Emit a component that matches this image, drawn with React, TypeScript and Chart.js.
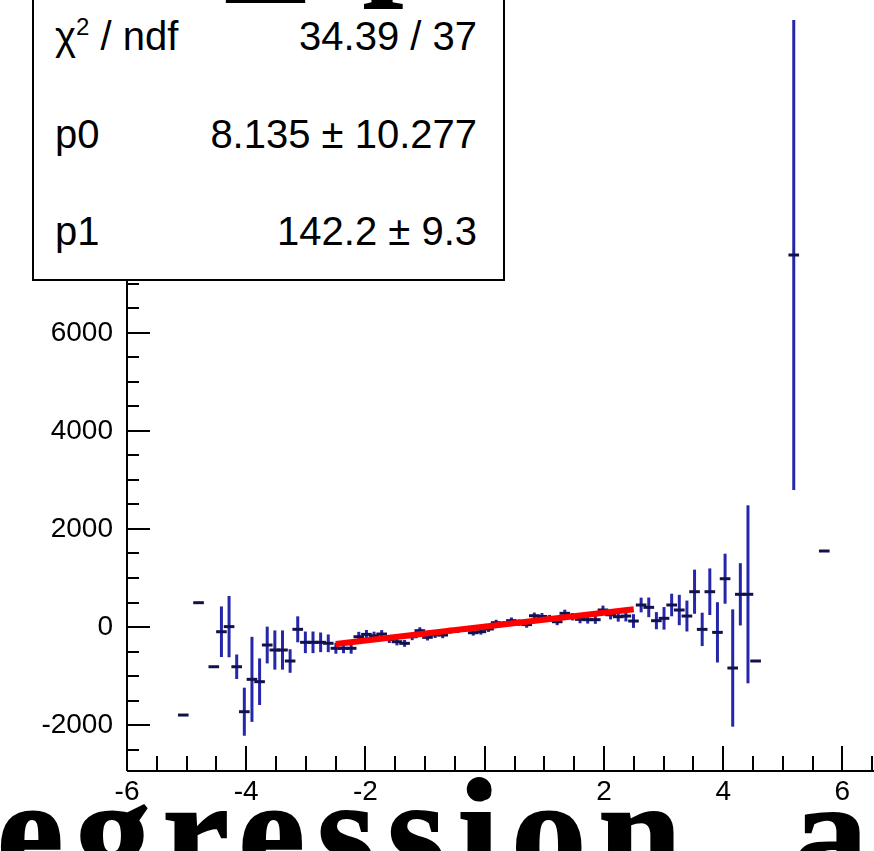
import React, { useEffect, useRef } from "react";
import { Chart, registerables } from "chart.js";

Chart.register(...registerables);

// ROOT-style histogram definition: 100 bins on [-6.4, 6.4]
const HIST_NBINS = 100;
const HIST_XMIN = -6.4;
const HIST_XMAX = 6.4;

// filled bins (index), contents and errors
const binIndex = [
  10, 12, 14, 15, 16, 17, 18, 19, 20, 21, 22, 23, 24, 25, 26, 27, 28, 29,
  30, 31, 32, 33, 34, 35, 36, 37, 38, 39, 40, 41, 42, 43, 44, 45, 46, 47,
  48, 49, 50, 51, 52, 53, 54, 55, 56, 57, 58, 59, 60, 61, 62, 63, 64, 65,
  66, 67, 68, 69, 70, 71, 72, 73, 74, 75, 76, 77, 78, 79, 80, 81, 82, 83,
  84, 85, 90, 94,
];
const binContent = [
  -1795, 496, -810, -96, 8, -810, -1727, -1067, -1115, -367, -469, -469, -693, -47, -312, -312, -312, -332,
  -434, -434, -434, -198, -150, -180, -143, -251, -300, -333, -198, -75, -210, -160, -163, -75, -61, -40,
  -116, -95, -40, 88, 60, 130, 90, 50, 230, 215, 177, 108, 279, 210, 157, 150, 150, 347,
  250, 210, 224, 122, 449, 401, 129, 177, 449, 347, 224, 720, -48, 720, -109, 985, -836, 667,
  667, -693, 7586, 1550,
];
const binError = [
  0, 0, 0, 516, 625, 250, 490, 867, 475, 375, 400, 400, 240, 265, 220, 220, 200, 180,
  110, 100, 110, 100, 90, 85, 80, 75, 75, 70, 70, 70, 65, 65, 65, 60, 60, 60,
  60, 60, 60, 60, 60, 65, 65, 65, 65, 70, 70, 70, 75, 75, 80, 80, 85, 90,
  95, 100, 110, 140, 150, 200, 175, 230, 230, 310, 315, 450, 340, 475, 615, 510, 1196, 635,
  1815, 0, 4790, 0,
];

// linear fit pol1: p0 + p1*x on [-2.5, 2.5]
const fitP0 = 8.135;
const fitP1 = 142.2;
const fitRange = [-2.5, 2.5];

// stats box
const statsLabels = ["chi2", "p0", "p1"];
const statsValues = ["34.39 / 37", "8.135 \u00b1 10.277", "142.2 \u00b1 9.3"];

// axes
const X_MIN = -6;
const X_MAX = 6.53;
const Y_MIN = -2936;
const Y_MAX = 12786;
const xTickLabels = [-6, -4, -2, 0, 2, 4, 6];
const yTickLabels = [-2000, 0, 2000, 4000, 6000, 8000, 10000, 12000];
const X_MAJOR_STEP = 2;
const X_MINOR_STEP = 0.5;
const Y_MAJOR_STEP = 2000;
const Y_MINOR_STEP = 500;

const BAR_COLOR = "#2626aa";
const MARK_COLOR = "#12124a";
const FIT_COLOR = "#ff0000";
const AXIS_FONT = "'Liberation Sans', Arial, Helvetica, sans-serif";

function binCenter(k: number) {
  return HIST_XMIN + ((k + 0.5) * (HIST_XMAX - HIST_XMIN)) / HIST_NBINS;
}

const rootStylePlugin = {
  id: "rootStyle",
  afterDatasetDraw(chart: any, args: any) {
    if (args.index !== 0) return;
    const ctx = chart.ctx as CanvasRenderingContext2D;
    const xs = chart.scales.x;
    const ys = chart.scales.y;
    const a = chart.chartArea;
    const bw = (HIST_XMAX - HIST_XMIN) / HIST_NBINS;
    ctx.save();
    ctx.beginPath();
    ctx.rect(a.left, a.top, a.right - a.left, a.bottom - a.top);
    ctx.clip();
    binIndex.forEach((k, i) => {
      const c = binCenter(k);
      const v = binContent[i];
      const e = binError[i];
      const px = xs.getPixelForValue(c);
      const py = ys.getPixelForValue(v);
      if (e > 0) {
        ctx.strokeStyle = BAR_COLOR;
        ctx.lineWidth = 3;
        ctx.lineCap = "butt";
        ctx.beginPath();
        ctx.moveTo(px, ys.getPixelForValue(v + e));
        ctx.lineTo(px, ys.getPixelForValue(v - e));
        ctx.stroke();
      }
      ctx.strokeStyle = MARK_COLOR;
      ctx.lineWidth = 3;
      ctx.lineCap = "square";
      ctx.beginPath();
      ctx.moveTo(xs.getPixelForValue(c - bw / 2), py);
      ctx.lineTo(xs.getPixelForValue(c + bw / 2), py);
      ctx.stroke();
    });
    ctx.restore();
  },
  afterDraw(chart: any) {
    const ctx = chart.ctx as CanvasRenderingContext2D;
    const xs = chart.scales.x;
    const ys = chart.scales.y;
    const a = chart.chartArea;
    ctx.save();
    ctx.strokeStyle = "#000";
    ctx.lineWidth = 2;
    ctx.lineCap = "butt";
    // axis lines
    ctx.beginPath();
    ctx.moveTo(a.left, a.bottom);
    ctx.lineTo(a.right, a.bottom);
    ctx.moveTo(a.left, a.top);
    ctx.lineTo(a.left, a.bottom);
    ctx.stroke();
    // x ticks (inward)
    const nx = Math.floor((X_MAX - X_MIN) / X_MINOR_STEP + 1e-9);
    ctx.beginPath();
    for (let i = 0; i <= nx; i++) {
      const v = X_MIN + i * X_MINOR_STEP;
      const major = Math.abs(v / X_MAJOR_STEP - Math.round(v / X_MAJOR_STEP)) < 1e-6;
      const len = major ? 25 : 15;
      const px = Math.round(xs.getPixelForValue(v));
      ctx.moveTo(px, a.bottom);
      ctx.lineTo(px, a.bottom - len);
    }
    // y ticks (inward)
    const y0 = Math.ceil(Y_MIN / Y_MINOR_STEP) * Y_MINOR_STEP;
    for (let v = y0; v <= Y_MAX; v += Y_MINOR_STEP) {
      const major = v % Y_MAJOR_STEP === 0;
      const len = major ? 23 : 12;
      const py = Math.round(ys.getPixelForValue(v));
      ctx.moveTo(a.left, py);
      ctx.lineTo(a.left + len, py);
    }
    ctx.stroke();
    ctx.restore();
  },
};

export default function App() {
  const canvasRef = useRef<HTMLCanvasElement | null>(null);

  useEffect(() => {
    if (!canvasRef.current) return;
    const points = binIndex.map((k, i) => ({ x: binCenter(k), y: binContent[i] }));
    const fitPoints = fitRange.map((x) => ({ x, y: fitP0 + fitP1 * x }));
    const chart = new Chart(canvasRef.current, {
      type: "scatter",
      data: {
        datasets: [
          {
            label: "histogram",
            data: points,
            pointRadius: 0,
            showLine: false,
            order: 1,
          } as any,
          {
            type: "line",
            label: "pol1 fit",
            data: fitPoints,
            borderColor: FIT_COLOR,
            borderWidth: 6,
            pointRadius: 0,
            fill: false,
            showLine: true,
            order: 0,
          } as any,
        ],
      },
      options: {
        responsive: false,
        animation: false,
        devicePixelRatio: 1,
        layout: { padding: 0 },
        plugins: {
          legend: { display: false },
          tooltip: { enabled: false },
          title: { display: false },
        },
        scales: {
          x: {
            type: "linear",
            min: X_MIN,
            max: X_MAX,
            grid: { display: false, drawTicks: false },
            border: { display: false },
            afterBuildTicks: (s: any) => {
              s.ticks = xTickLabels.map((v) => ({ value: v }));
            },
            afterFit: (s: any) => {
              s.height = 80;
              s.paddingLeft = 0;
              s.paddingRight = 0;
            },
            ticks: {
              font: { family: AXIS_FONT, size: 28 },
              color: "#000",
              padding: 4,
              maxRotation: 0,
              autoSkip: false,
              callback: (v: any) => String(v),
            },
          },
          y: {
            type: "linear",
            min: Y_MIN,
            max: Y_MAX,
            grid: { display: false, drawTicks: false },
            border: { display: false },
            afterBuildTicks: (s: any) => {
              s.ticks = yTickLabels.map((v) => ({ value: v }));
            },
            afterFit: (s: any) => {
              s.width = 127;
              s.paddingTop = 0;
              s.paddingBottom = 0;
            },
            ticks: {
              font: { family: AXIS_FONT, size: 28 },
              color: "#000",
              padding: 14,
              autoSkip: false,
              callback: (v: any) => String(v),
            },
          },
        },
      } as any,
      plugins: [rootStylePlugin as any],
    });
    return () => chart.destroy();
  }, []);

  const statFont: React.CSSProperties = {
    position: "absolute",
    fontFamily: AXIS_FONT,
    fontSize: 40,
    lineHeight: "40px",
    color: "#000",
    whiteSpace: "nowrap",
  };
  const rowTops = [16, 114, 211];
  const bigFont: React.CSSProperties = {
    position: "absolute",
    fontFamily: "'Liberation Serif', 'Times New Roman', serif",
    fontWeight: 700,
    fontSize: 150,
    lineHeight: "150px",
    color: "#000",
    whiteSpace: "nowrap",
    WebkitTextStroke: "2px #000",
  };

  return (
    <div
      style={{
        position: "absolute",
        left: 0,
        top: 0,
        width: 874,
        height: 851,
        overflow: "hidden",
        background: "#fff",
      }}
    >
      <canvas
        ref={canvasRef}
        width={874}
        height={851}
        style={{ position: "absolute", left: 0, top: 0, display: "block" }}
      />
      {/* stats box */}
      <div
        style={{
          position: "absolute",
          left: 32,
          top: -80,
          width: 473,
          height: 361,
          boxSizing: "border-box",
          border: "2px solid #000",
          background: "#fff",
        }}
      />
      {statsLabels.map((lab, i) => (
        <div key={"l" + i} style={{ ...statFont, left: 55, top: rowTops[i] }}>
          {lab === "chi2" ? (
            <span>
              {"\u03c7"}
              <span style={{ fontSize: 24, position: "relative", top: -15 }}>2</span>
              {" / ndf"}
            </span>
          ) : (
            lab
          )}
        </div>
      ))}
      {statsValues.map((val, i) => (
        <div key={"v" + i} style={{ ...statFont, right: 874 - 477, top: rowTops[i] }}>
          {val}
        </div>
      ))}
      {/* fragments of the page heading above the chart */}
      <div style={{ ...bigFont, left: 228, top: -145 }}>_</div>
      <div style={{ ...bigFont, left: 362, top: -149, WebkitTextStroke: "0px #000" }}>p</div>
      {/* page text below the chart */}
      <div style={{ ...bigFont, left: -79, top: 757, letterSpacing: "12px" }}>
        regression, as
      </div>
    </div>
  );
}
